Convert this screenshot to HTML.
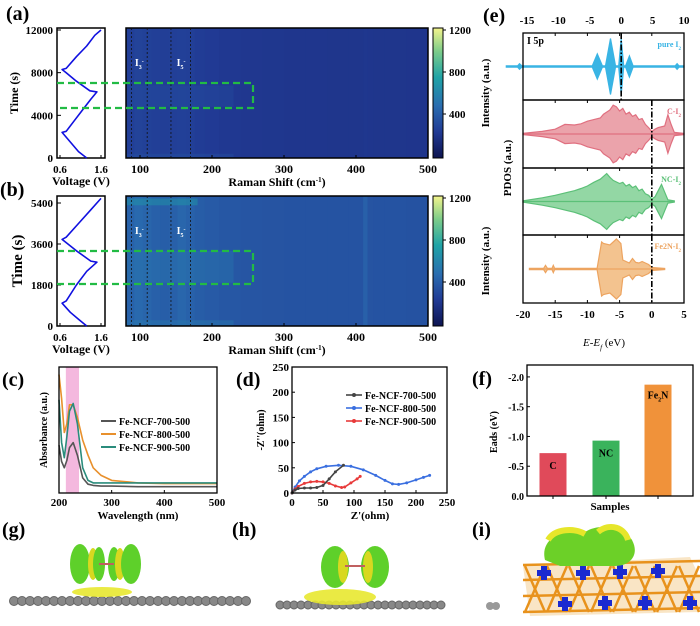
<!DOCTYPE html>
<html><head><meta charset="utf-8"><style>
html,body{margin:0;padding:0;background:#fff;}
svg{display:block;font-family:"Liberation Serif",serif;}
</style></head><body>
<svg id="fig" width="700" height="626" viewBox="0 0 700 626" xmlns="http://www.w3.org/2000/svg">
<defs>
<linearGradient id="cbar" x1="0" y1="1" x2="0" y2="0">
<stop offset="0" stop-color="#0d1450"/><stop offset="0.2" stop-color="#213a94"/><stop offset="0.4" stop-color="#2a6db0"/><stop offset="0.62" stop-color="#1fa3a6"/><stop offset="0.82" stop-color="#7ccc8a"/><stop offset="1" stop-color="#f4f48c"/>
</linearGradient>
</defs>
</svg>
<script>
// ---------- data ----------
const voltA_t=[0,600,1500,2400,2500,3500,4500,5500,6200,6300,7200,8000,8300,8400,9500,10500,11500,12000];
const voltA_v=[1.25,1.05,0.85,0.65,0.75,0.95,1.15,1.35,1.5,1.33,1.0,0.75,0.65,0.75,1.0,1.25,1.45,1.6];
const voltB_t=[0,300,600,1000,1100,1800,2400,2800,2850,3300,3800,3900,4500,5100,5600];
const voltB_v=[1.25,1.05,0.85,0.65,0.75,1.0,1.25,1.5,1.35,1.0,0.65,0.75,1.05,1.35,1.6];
const ramanCols=[80,92,104,116,128,140,152,164,176,190,210,240,270,300,330,360,390,410,416,424,440,470,500];
const heatA_cols=[265,280,272,262,258,262,270,262,250,240,228,222,218,215,214,213,213,218,214,213,212,211];
const heatB_cols=[430,460,440,420,410,420,445,425,405,390,375,368,362,358,356,356,356,420,360,358,356,354];
const timeBandsA=[[0,400,60],[4800,6800,45]];
const timeBandsB=[[0,250,90],[1900,3300,60],[5300,5600,250]];
const uvWave=[200,205,210,215,220,227,235,245,255,265,280,300,350,400,450,500];
const uv700=[0.38,0.25,0.2,0.26,0.36,0.40,0.3,0.12,0.07,0.06,0.055,0.055,0.05,0.05,0.05,0.05];
const uv800=[0.94,0.75,0.48,0.55,0.7,0.70,0.6,0.42,0.30,0.2,0.14,0.10,0.08,0.075,0.075,0.075];
const uv900=[0.74,0.4,0.28,0.45,0.65,0.71,0.55,0.2,0.1,0.08,0.08,0.08,0.08,0.08,0.08,0.08];
const eisX700=[0,5,10,20,30,40,50,60,70,83];
const eisY700=[0,6,9,10,10,11,15,28,42,55];
const eisX800=[0,5,12,20,30,40,55,75,95,115,135,150,162,172,185,200,212,222];
const eisY800=[0,12,24,33,42,48,53,55,53,46,35,25,18,17,20,26,31,35];
const eisX900=[0,5,10,20,30,40,50,60,70,80,85,95,105,110];
const eisY900=[0,8,13,19,22,23,22,19,14,11,12,20,28,33];
const barCats=["C","NC","Fe2N"];
const barVals=[0.72,0.93,1.87];
const pdosPureE=[-18.3,-16.5,-16.2,-15.8,-9.5,-4.6,-3.8,-3,-2.5,-1.7,-0.9,-0.4,0,0.4,0.7,1.3,1.9,2.2,8.6,8.9,9.2,10];
const pdosPureA=[0.02,0.02,0.1,0.02,0.02,0.02,0.45,0.02,0.02,1.0,0.02,0.02,1.0,0.02,0.02,0.38,0.02,0.02,0.02,0.1,0.02,0.02];
const pdosCE=[-20,-17,-15,-13.5,-12,-11,-10,-9,-8,-7.5,-6.5,-6,-5.5,-5,-4.5,-4,-3.5,-3,-2.5,-2,-1.5,-1,-0.5,0,0.5,1,2,2.5,3,3.5,5];
const pdosCA=[0.02,0.08,0.15,0.3,0.28,0.32,0.4,0.45,0.5,0.62,0.75,0.9,0.85,0.72,0.8,0.62,0.68,0.55,0.6,0.45,0.48,0.3,0.2,0.08,0.15,0.2,0.25,0.6,0.3,0.05,0.02];
const pdosNE=[-20,-17,-15,-13,-12,-11,-10,-9,-8,-7,-6.5,-6,-5,-4.5,-4,-3.5,-3,-2.5,-2,-1.5,-1,-0.5,0,0.5,1,1.5,2,2.5,3.5];
const pdosNA=[0.02,0.12,0.2,0.3,0.35,0.42,0.5,0.62,0.72,0.9,0.78,0.68,0.58,0.62,0.5,0.55,0.45,0.5,0.35,0.4,0.25,0.2,0.08,0.15,0.35,0.55,0.3,0.05,0.02];
const pdosFE=[-19,-16.8,-16.5,-16.2,-15.5,-15.3,-15.1,-8.5,-7.8,-7.5,-6.5,-6,-5.5,-4.8,-4.5,-3.5,-3,-2.5,-2,-1.5,-0.5,0,2];
const pdosFA=[0.02,0.02,0.12,0.02,0.02,0.12,0.02,0.02,0.9,0.85,0.8,0.9,1.0,0.85,0.3,0.2,0.35,0.22,0.2,0.25,0.15,0.05,0.02];

// ---------- helpers ----------
const NS="http://www.w3.org/2000/svg";
const svg=document.getElementById('fig');
function mk(tag,attrs,parent){const e=document.createElementNS(NS,tag);for(const k in attrs)e.setAttribute(k,attrs[k]);(parent||svg).appendChild(e);return e;}
function txt(x,y,s,size,extra,parent){const e=mk('text',Object.assign({x:x,y:y,'font-size':size,'font-weight':'bold','text-anchor':'middle'},extra||{}),parent);e.textContent=s;return e;}
function sub(t,s,size,shift){const a=mk('tspan',{'font-size':size,'baseline-shift':shift},t);a.textContent=s;return a;}
function lin(d0,d1,p0,p1){return v=>p0+(v-d0)*(p1-p0)/(d1-d0);}
const stops=[[0,[13,20,80]],[240,[33,58,148]],[480,[42,109,176]],[744,[31,163,166]],[984,[124,204,138]],[1200,[244,244,140]]];
function cmap(v){v=Math.max(0,Math.min(1200,v));for(let i=1;i<stops.length;i++){if(v<=stops[i][0]){const a=stops[i-1],b=stops[i],t=(v-a[0])/(b[0]-a[0]);const c=a[1].map((q,j)=>Math.round(q+(b[1][j]-q)*t));return `rgb(${c})`;}}return 'rgb(244,244,140)';}

// ---------- panels a & b ----------
function panelAB(cfg){
  const g=mk('g',{});
  
  
  const lab=txt(cfg.labX,cfg.labY,cfg.label,20,{'text-anchor':'start'},g);
  
  
  const vx=lin(0.6,1.6,60,101), ty=lin(0,cfg.tmax,cfg.y1,cfg.y1-(cfg.y1-cfg.ytop)*cfg.tmax/cfg.tmaxTick);
  mk('rect',{x:57,y:cfg.y0,width:48,height:cfg.y1-cfg.y0,fill:'none',stroke:'#000','stroke-width':1.5},g);
  let d=cfg.vt.map((t,i)=>(i?'L':'M')+vx(cfg.vv[i]).toFixed(1)+','+ty(t).toFixed(1)).join('');
  const vp=mk('path',{d:d,fill:'none',stroke:'#1010e0','stroke-width':1.6,'stroke-linejoin':'round'},g);
  
  
  cfg.ticks.forEach(t=>{const y=ty(t);mk('line',{x1:57,x2:61,y1:y,y2:y,stroke:'#000'},g);txt(53,y+4,String(t),11,{'text-anchor':'end'},g);});
  [0.6,1.6].forEach(v=>{mk('line',{x1:vx(v),x2:vx(v),y1:cfg.y1,y2:cfg.y1-3,stroke:'#000'},g);txt(vx(v),cfg.y1+15,v.toFixed(1),11,{},g);});
  const yl=txt(0,0,'Time (s)',cfg.big?15:12,{transform:`translate(${cfg.big?22:18},${(cfg.y0+cfg.y1)/2}) rotate(-90)`},g);
  
  
  txt(81,cfg.y1+27,'Voltage (V)',12,{},g);
  const rx=lin(100,500,140,428);
  const hm=mk('g',{},g);
  
  
  for(let i=0;i<ramanCols.length-1;i++){
    const c=mk('rect',{x:rx(ramanCols[i]),y:cfg.y0,width:rx(ramanCols[i+1])-rx(ramanCols[i])+0.5,height:cfg.y1-cfg.y0,fill:cmap(cfg.cols[i])},hm);
    
    
  }
  cfg.bands.forEach(b=>{const yA=ty(Math.min(b[1],cfg.tmax)),yB=ty(b[0]);
    const r=mk('rect',{x:126,y:yA,width:(b[2]>200?rx(180):rx(230))-126,height:yB-yA,fill:cmap(cfg.cols[1]+b[2]),opacity:0.45},hm);
    
    });
  mk('rect',{x:126,y:cfg.y0,width:302,height:cfg.y1-cfg.y0,fill:'none',stroke:'#000','stroke-width':1.5},g);
  [88,110,143,170].forEach(r=>mk('line',{x1:rx(r),x2:rx(r),y1:cfg.y0,y2:cfg.y1,stroke:'#111','stroke-dasharray':'2,2','stroke-width':0.8},g));
  const i3=txt(rx(99),cfg.y0+38,'I',10,{fill:'#fff'},g);sub(i3,'3',6,'sub');sub(i3,'-',6,'super');
  const i5=txt(rx(157),cfg.y0+38,'I',10,{fill:'#fff'},g);sub(i5,'5',6,'sub');sub(i5,'-',6,'super');
  [100,200,300,400,500].forEach(v=>{mk('line',{x1:rx(v),x2:rx(v),y1:cfg.y1,y2:cfg.y1-3,stroke:'#000'},g);txt(rx(v),cfg.y1+15,String(v),12,{},g);});
  const xt=txt(277,cfg.y1+28,'Raman Shift (cm',12,{},g);sub(xt,'-1',7,'super');const cl=mk('tspan',{},xt);cl.textContent=')';
  const cb=mk('rect',{x:433,y:cfg.y0,width:10,height:cfg.y1-cfg.y0,fill:'url(#cbar)',stroke:'#000','stroke-width':1},g);
  
  
  const cy=lin(0,1200,cfg.y1-2,cfg.y0+2);
  [400,800,1200].forEach(v=>{mk('line',{x1:443,x2:446,y1:cy(v),y2:cy(v),stroke:'#000'},g);txt(449,cy(v)+4,String(v),11,{'text-anchor':'start'},g);});
  txt(0,0,'Intensity (a.u.)',11,{transform:`translate(489,${(cfg.y0+cfg.y1)/2}) rotate(-90)`},g);
  const bx=mk('path',{d:`M57,${cfg.by0} H253 V${cfg.by1} H57`,fill:'none',stroke:'#22bb44','stroke-width':2.2,'stroke-dasharray':'7,4'},g);
  
  
}
panelAB({name:'panel-a',label:'(a)',labX:6,labY:20,y0:28,y1:158,ytop:30,tmax:12000,tmaxTick:12000,ticks:[0,4000,8000,12000],vt:voltA_t,vv:voltA_v,cols:heatA_cols,bands:timeBandsA,by0:83,by1:108});
panelAB({name:'panel-b',label:'(b)',labX:0,labY:196,y0:196,y1:326,ytop:203,tmax:5600,tmaxTick:5400,ticks:[0,1800,3600,5400],vt:voltB_t,vv:voltB_v,cols:heatB_cols,bands:timeBandsB,by0:251,by1:284,big:true});

// ---------- panel e ----------
(function(){
  const g=mk('g',{});
  
  
  txt(483,22,'(e)',20,{'text-anchor':'start'},g);
  const tx=lin(-15,10,527,684), bx=lin(-20,5,523,684);
  const rows=[[33,100],[100,168],[168,235],[235,303]];
  const specs=[[pdosPureE,pdosPureA,'#39b4e4','#39b4e4',tx,'pure I',28,'pdos-pure-i2'],[pdosCE,pdosCA,'#e07080','#eba3ab',bx,'C-I',32,'pdos-c-i2'],[pdosNE,pdosNA,'#5cc078','#93d7a4',bx,'NC-I',31,'pdos-nc-i2'],[pdosFE,pdosFA,'#eda460','#f3c38f',bx,'Fe2N-I',30,'pdos-fe2n-i2']];
  specs.forEach((s,i)=>{
    const [y0,y1]=rows[i], cy=(y0+y1)/2;
    let top=s[0].map((e,j)=>s[4](e).toFixed(1)+','+(cy-s[1][j]*s[6]).toFixed(1));
    let bot=s[0].map((e,j)=>s[4](e).toFixed(1)+','+(cy+s[1][j]*s[6]).toFixed(1)).reverse();
    const p=mk('polygon',{points:top.concat(bot).join(' '),fill:s[3],stroke:s[2],'stroke-width':1.2},g);
    
    
    mk('line',{x1:s[4](s[0][0]),x2:s[4](s[0][s[0].length-1]),y1:cy,y2:cy,stroke:s[2],'stroke-width':1.2},g);
    mk('rect',{x:523,y:y0,width:161,height:y1-y0,fill:'none',stroke:'#000','stroke-width':1.3},g);
    const dx=i==0?tx(0):bx(0);
    mk('line',{x1:dx,x2:dx,y1:y0,y2:y1,stroke:'#000','stroke-width':1.6,'stroke-dasharray':'6,2,1.5,2'},g);
    const lbl=txt(681,y0+14,s[5],8,{'text-anchor':'end',fill:s[2]},g);
    sub(lbl,'2',5,'sub');
    [-15,-10,-5,0,5].forEach(v=>{mk('line',{x1:bx(v),x2:bx(v),y1:y0,y2:y0+3,stroke:'#000'},g);});
  });
  txt(527,44,'I 5p',10,{'text-anchor':'start'},g);
  [-15,-10,-5,0,5,10].forEach(v=>txt(tx(v),24,String(v),11,{},g));
  [-20,-15,-10,-5,0,5].forEach(v=>{mk('line',{x1:bx(v),x2:bx(v),y1:303,y2:300,stroke:'#000'},g);txt(bx(v),318,String(v),11,{},g);});
  const xl=txt(604,346,'E-E',11,{'font-style':'italic','font-weight':'normal'},g);
  sub(xl,'f',7,'sub');
  const s2=mk('tspan',{'font-style':'normal'},xl);s2.textContent=' (eV)';
  txt(0,0,'PDOS (a.u.)',11,{transform:'translate(511,168) rotate(-90)'},g);
})();

// ---------- panel c ----------
(function(){
  const g=mk('g',{});
  
  
  txt(2,386,'(c)',20,{'text-anchor':'start'},g);
  const x=lin(200,500,59,217), y=lin(0,1,493,367);
  mk('rect',{x:x(213),y:367,width:x(238)-x(213),height:126,fill:'#f4b8de'},g);
  const series=[[uv800,'#e8902c','uv-800'],[uv900,'#2a8c7c','uv-900'],[uv700,'#555','uv-700']];
  series.forEach(s=>{const p=mk('path',{d:uvWave.map((w,i)=>(i?'L':'M')+x(w).toFixed(1)+','+y(s[0][i]).toFixed(1)).join(''),fill:'none',stroke:s[1],'stroke-width':1.6,'stroke-linejoin':'round'},g);
    
    });
  mk('rect',{x:59,y:367,width:158,height:126,fill:'none',stroke:'#000','stroke-width':1.3},g);
  [200,300,400,500].forEach(v=>{mk('line',{x1:x(v),x2:x(v),y1:493,y2:490,stroke:'#000'},g);txt(x(v),506,String(v),11,{},g);});
  txt(138,519,'Wavelength (nm)',11,{},g);
  txt(0,0,'Absorbance (a.u.)',10,{transform:'translate(47,430) rotate(-90)'},g);
  const leg=[['Fe-NCF-700-500','#555',425],['Fe-NCF-800-500','#e8902c',438],['Fe-NCF-900-500','#2a8c7c',451]];
  leg.forEach(l=>{const e=mk('g',{},g);
    mk('line',{x1:101,x2:116,y1:l[2]-4,y2:l[2]-4,stroke:l[1],'stroke-width':2},e);txt(119,l[2],l[0],10,{'text-anchor':'start'},e);});
})();

// ---------- panel d ----------
(function(){
  const g=mk('g',{});
  
  
  txt(236,386,'(d)',20,{'text-anchor':'start'},g);
  const x=lin(0,250,292,447), y=lin(0,250,493,367);
  const series=[[eisX800,eisY800,'#3a6fe0','eis-800'],[eisX900,eisY900,'#e83a3a','eis-900'],[eisX700,eisY700,'#444','eis-700']];
  series.forEach(s=>{const p=mk('path',{d:s[0].map((v,i)=>(i?'L':'M')+x(v).toFixed(1)+','+y(s[1][i]).toFixed(1)).join(''),fill:'none',stroke:s[2],'stroke-width':1.6},g);
    
    
    s[0].forEach((v,i)=>mk('circle',{cx:x(v),cy:y(s[1][i]),r:1.5,fill:s[2]},g));});
  mk('rect',{x:292,y:367,width:155,height:126,fill:'none',stroke:'#000','stroke-width':1.3},g);
  [0,50,100,150,200,250].forEach(v=>{mk('line',{x1:x(v),x2:x(v),y1:493,y2:490,stroke:'#000'},g);txt(x(v),506,String(v),11,{},g);
    mk('line',{x1:292,x2:295,y1:y(v),y2:y(v),stroke:'#000'},g);txt(289,y(v)+4,String(v),11,{'text-anchor':'end'},g);});
  txt(370,519,"Z'(ohm)",11,{},g);
  txt(0,0,"-Z''(ohm)",10,{transform:'translate(264,430) rotate(-90)'},g);
  const leg=[['Fe-NCF-700-500','#444',399],['Fe-NCF-800-500','#3a6fe0',412],['Fe-NCF-900-500','#e83a3a',425]];
  leg.forEach(l=>{const e=mk('g',{},g);
    mk('line',{x1:346,x2:362,y1:l[2]-4,y2:l[2]-4,stroke:l[1],'stroke-width':1.6},e);mk('circle',{cx:354,cy:l[2]-4,r:2,fill:l[1]},e);txt(365,l[2],l[0],10,{'text-anchor':'start'},e);});
})();

// ---------- panel f ----------
(function(){
  const g=mk('g',{});
  
  
  txt(472,385,'(f)',20,{'text-anchor':'start'},g);
  const y=lin(0,2.2,496,365);
  const cx=[553,606,658], cols=['#e04a5a','#3ab35c','#f0923a'];
  barCats.forEach((c,i)=>{const r=mk('rect',{x:cx[i]-13.5,y:y(barVals[i]),width:27,height:496-y(barVals[i]),fill:cols[i]},g);
    
    
    const t=txt(cx[i],(i==2?y(barVals[i])+14:y(barVals[i])+16),c=='Fe2N'?'Fe':c,10,{},g);
    if(c=='Fe2N'){sub(t,'2',6,'sub');const b=mk('tspan',{},t);b.textContent='N';}
    mk('line',{x1:cx[i],x2:cx[i],y1:496,y2:499,stroke:'#000'},g);});
  mk('rect',{x:527,y:365,width:166,height:131,fill:'none',stroke:'#000','stroke-width':1.3},g);
  [0,0.5,1,1.5,2].forEach(v=>{mk('line',{x1:527,x2:530,y1:y(v),y2:y(v),stroke:'#000'},g);txt(524,y(v)+4,v==0?'0.0':'-'+v.toFixed(1),10,{'text-anchor':'end'},g);});
  txt(610,510,'Samples',11,{},g);
  txt(0,0,'Eads (eV)',10,{transform:'translate(497,432) rotate(-90)'},g);
})();

// ---------- panels g h i (structures) ----------
(function(){
  const g=mk('g',{});
  
  
  txt(2,536,'(g)',20,{'text-anchor':'start'},g);
  for(let i=0;i<30;i++)mk('circle',{cx:14+i*8,cy:601,r:4.5,fill:'#888',stroke:'#666'},g);
  mk('ellipse',{cx:102,cy:592,rx:30,ry:5,fill:'#e8e830',opacity:0.9},g);
  [[80,'#5ed02a',10,20],[93,'#d8d820',5,16],[99,'#5ed02a',6,17],[114,'#5ed02a',6,17],[120,'#d8d820',5,16],[131,'#5ed02a',10,20]].forEach(e=>mk('ellipse',{cx:e[0],cy:564,rx:e[2],ry:e[3],fill:e[1]},g));
  mk('line',{x1:99,x2:114,y1:564,y2:564,stroke:'#c06060','stroke-width':2},g);
})();
(function(){
  const g=mk('g',{});
  
  
  txt(232,536,'(h)',20,{'text-anchor':'start'},g);
  for(let i=0;i<24;i++)mk('circle',{cx:280+i*7,cy:605,r:4,fill:'#888',stroke:'#666'},g);
  mk('circle',{cx:490,cy:606,r:4,fill:'#999'},g);mk('circle',{cx:496,cy:606,r:4,fill:'#999'},g);
  mk('ellipse',{cx:340,cy:597,rx:36,ry:8,fill:'#e8e830',opacity:0.9},g);
  [[335,'#5ed02a',14,21],[343,'#d8d820',5,16],[375,'#5ed02a',14,21],[368,'#d8d820',5,16]].forEach(e=>mk('ellipse',{cx:e[0],cy:567,rx:e[2],ry:e[3],fill:e[1]},g));
  mk('line',{x1:345,x2:365,y1:566,y2:566,stroke:'#c06060','stroke-width':2},g);
})();
(function(){
  const g=mk('g',{});
  
  
  txt(472,536,'(i)',20,{'text-anchor':'start'},g);
  mk('polygon',{points:'523,566 690,557 700,578 700,612 530,616',fill:'#f4cc8c',opacity:0.5},g);
  for(let i=0;i<8;i++){mk('line',{x1:525+i*22,y1:566,x2:545+i*22,y2:612,stroke:'#e8921c','stroke-width':2.5},g);
    mk('line',{x1:545+i*22,y1:566,x2:525+i*22,y2:612,stroke:'#e8921c','stroke-width':2.5},g);}
  [565,580,596,612].forEach(yy=>mk('line',{x1:523,x2:700,y1:yy,y2:yy-4,stroke:'#e8921c','stroke-width':2.5},g));
  [[544,573],[583,573],[620,572],[658,571],[565,604],[605,603],[645,603],[690,603]].forEach(p=>{mk('rect',{x:p[0]-7,y:p[1]-3,width:14,height:6,fill:'#1a2ad0'},g);mk('rect',{x:p[0]-3,y:p[1]-7,width:6,height:14,fill:'#1a2ad0'},g);});
  mk('path',{d:'M545,560 C540,540 560,528 585,532 C600,522 625,528 632,540 C640,555 630,566 615,566 L560,566 Z',fill:'#6cd028'},g);
  mk('path',{d:'M548,540 C555,528 575,528 585,534 M598,532 C610,522 625,528 628,540',fill:'none',stroke:'#e6e62a','stroke-width':6},g);
})();
</script>
</body></html>
